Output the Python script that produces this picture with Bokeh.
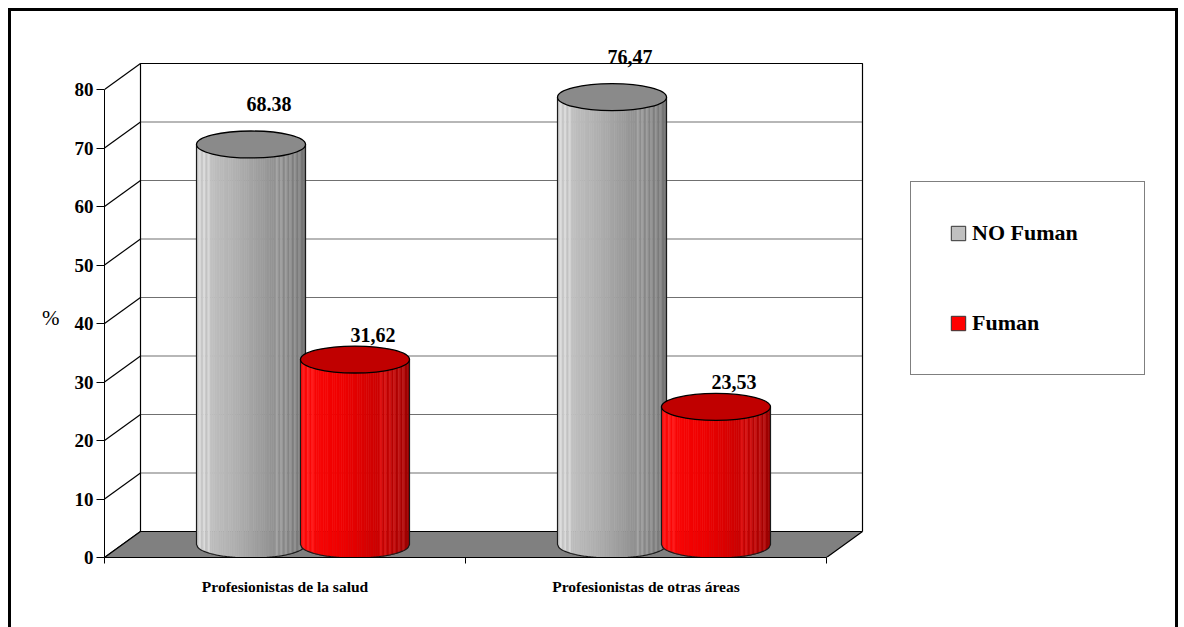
import numpy as np
from bokeh.plotting import figure
from bokeh.models import (Range1d, LinearAxis, FixedTicker, Legend, LegendItem,
                          InlineStyleSheet)
from bokeh.core.properties import value
from bokeh.embed import file_html
from bokeh.resources import INLINE

# ---- data -------------------------------------------------------------
categories = ["Profesionistas de la salud", "Profesionistas de otras áreas"]
series_names = ["NO Fuman", "Fuman"]
no_fuman = [68.38, 76.47]
fuman = [31.62, 23.53]
no_fuman_text = ["68.38", "76,47"]
fuman_text = ["31,62", "23,53"]
y_ticks = [0, 10, 20, 30, 40, 50, 60, 70, 80]

# ---- layout / style ---------------------------------------------------
FONT = "Liberation Serif"
W, H = 1184, 627
B_LEFT, B_RIGHT, B_TOP, B_BOTTOM = 104, 4, 20, 70
PX_PER_X = 361.0          # pixels per category slot
PX_PER_Y = 468.0 / 80.0   # pixels per percent
n_cat = len(categories)
y_top = y_ticks[-1]

x_end = (W - B_LEFT - B_RIGHT) / PX_PER_X
y_end = (H - B_TOP - B_BOTTOM) / PX_PER_Y

# depth of the 3-D box (back wall offset) in data units
DX = 36 / PX_PER_X
DY = 26 / PX_PER_Y

p = figure(width=W, height=H, x_range=Range1d(0, x_end), y_range=Range1d(0, y_end),
           output_backend="svg", toolbar_location=None,
           x_axis_type=None, y_axis_type=None,
           min_border_left=B_LEFT, min_border_right=B_RIGHT,
           min_border_top=B_TOP, min_border_bottom=B_BOTTOM)
p.outline_line_color = None
p.background_fill_color = "white"
p.border_fill_color = "white"

# thick black frame around the whole chart (open at the bottom edge)
p.stylesheets = [InlineStyleSheet(css="""
:host { position: relative; overflow: hidden; }
:host::after {
  content: ""; position: absolute; left: 8px; top: 8px;
  width: 1170px; height: 660px; box-sizing: border-box;
  border: 3px solid black; pointer-events: none;
}
""")]

# ---- axes -------------------------------------------------------------
yax = LinearAxis(ticker=FixedTicker(ticks=y_ticks), bounds=(0, y_top))
yax.major_tick_out = 8
yax.major_tick_in = 0
yax.minor_tick_out = 0
yax.minor_tick_in = 0
yax.major_tick_line_color = "black"
yax.axis_line_color = "black"
yax.major_label_standoff = 3
yax.major_label_text_font = FONT
yax.major_label_text_font_size = "19px"
yax.major_label_text_font_style = "bold"
yax.major_label_text_color = "black"
# "%" unit label, written horizontally to the left of the tick labels
yax.axis_label = "\n\n%"
yax.axis_label_orientation = "horizontal"
yax.axis_label_text_baseline = "middle"
yax.axis_label_standoff = 12
yax.axis_label_text_font = FONT
yax.axis_label_text_font_size = "21px"
yax.axis_label_text_font_style = "normal"
yax.axis_label_text_color = "black"
p.add_layout(yax, "left")

xax = LinearAxis(ticker=FixedTicker(ticks=[i + 0.5 for i in range(n_cat)],
                                    minor_ticks=list(range(n_cat + 1))),
                 bounds=(0, n_cat))
xax.major_label_overrides = {i + 0.5: c for i, c in enumerate(categories)}
xax.major_tick_out = 0
xax.major_tick_in = 0
xax.major_tick_line_color = None
xax.minor_tick_out = 6
xax.minor_tick_in = 0
xax.minor_tick_line_color = "black"
xax.axis_line_color = "black"
xax.major_label_standoff = 14
xax.major_label_text_font = FONT
xax.major_label_text_font_size = "15.5px"
xax.major_label_text_font_style = "bold"
xax.major_label_text_color = "black"
p.add_layout(xax, "below")

# ---- 3-D box: back wall, side wall, floor ----------------------------
grid_vals = y_ticks[1:-1]
p.segment(x0=[DX] * len(grid_vals), y0=[v + DY for v in grid_vals],
          x1=[n_cat + DX] * len(grid_vals), y1=[v + DY for v in grid_vals],
          line_color="#707070", line_width=1.2)
p.multi_line(xs=[[DX, DX, n_cat + DX, n_cat + DX]],
             ys=[[DY, y_top + DY, y_top + DY, DY]],
             line_color="black", line_width=1.2)
p.segment(x0=[0] * len(y_ticks), y0=y_ticks,
          x1=[DX] * len(y_ticks), y1=[v + DY for v in y_ticks],
          line_color="black", line_width=1.2)
p.patch(x=[0, n_cat, n_cat + DX, DX], y=[0, 0, DY, DY],
        fill_color="#808080", line_color="black", line_width=1.2)

# ---- cylinders --------------------------------------------------------
BAR_W = 0.302                 # cylinder diameter, category units
BAR_OFF = 0.144               # series offset from category centre
ELL_H = 27 / PX_PER_Y         # ellipse height of the caps
N_STRIP = 48


def shade(stops, t):
    ts = [s[0] for s in stops]
    return [np.interp(t, ts, [s[1][k] for s in stops]) for k in range(3)]


GRAY_STOPS = [(0.0, (202, 202, 202)), (0.35, (178, 178, 178)),
              (0.7, (148, 148, 148)), (1.0, (115, 115, 115))]
RED_STOPS = [(0.0, (255, 10, 10)), (0.4, (238, 0, 0)),
             (0.75, (200, 0, 0)), (1.0, (155, 0, 0))]
STREAKS = {1, 3, 5, 35, 37, 39, 41, 43, 45}


def strip_colors(stops):
    cols = []
    for k in range(N_STRIP):
        t = (k + 0.5) / N_STRIP
        r, g, b = shade(stops, t)
        if k in STREAKS:
            r, g, b = min(255, r + 22), min(255, g + 22), min(255, b + 22)
        cols.append("#%02x%02x%02x" % (int(r), int(g), int(b)))
    return cols


series = [
    (no_fuman, no_fuman_text, strip_colors(GRAY_STOPS), "#8a8a8a", -BAR_OFF, 27),
    (fuman, fuman_text, strip_colors(RED_STOPS), "#c00000", BAR_OFF, 12),
]

a = BAR_W / 2
hh = ELL_H / 2
for i in range(n_cat):
    for vals, texts, cols, cap_col, off, gap_px in series:
        v = vals[i]
        xc = i + 0.5 + off + DX / 2
        base = DY / 2
        top = v + DY / 2

        def lower(x):
            return base - hh * np.sqrt(np.clip(1 - ((x - xc) / a) ** 2, 0, 1))

        edges = np.linspace(xc - a, xc + a, N_STRIP + 1)
        xs, ys = [], []
        for k in range(N_STRIP):
            xa, xb = edges[k], edges[k + 1]
            xs.append([xa, xb, xb, xa])
            ys.append([lower(xa), lower(xb), top, top])
        p.patches(xs=xs, ys=ys, fill_color=cols, line_color=cols, line_width=0.6)

        cx = np.linspace(xc - a, xc + a, 80)
        p.line(x=[xc - a] + list(cx) + [xc + a], y=[top] + list(lower(cx)) + [top],
               line_color="#1a1a1a", line_width=1.2)
        p.ellipse(x=[xc], y=[top], width=BAR_W, height=ELL_H,
                  fill_color=cap_col, line_color="black", line_width=1.3)

        p.text(x=[xc + DX / 2], y=[v + DY + gap_px / PX_PER_Y], text=[texts[i]],
               text_align="center", text_baseline="alphabetic",
               text_font=value(FONT), text_font_size="20px",
               text_font_style="bold", text_color="black")

# ---- legend -----------------------------------------------------------
# key renderers hold a single NaN box so only their legend swatch is drawn
key_gray = p.quad(left=[np.nan], right=[np.nan], bottom=[np.nan], top=[np.nan],
                  fill_color="#c0c0c0", line_color="#333333")
key_red = p.quad(left=[np.nan], right=[np.nan], bottom=[np.nan], top=[np.nan],
                 fill_color="#ff0000", line_color="#333333")
legend = Legend(items=[LegendItem(label=series_names[0], renderers=[key_gray]),
                       LegendItem(label=series_names[1], renderers=[key_red])],
                location=(806, 182), padding=38, spacing=64, margin=0,
                glyph_width=18, glyph_height=18, label_standoff=5, label_width=134,
                label_text_font=FONT, label_text_font_size="22px",
                label_text_font_style="bold", label_text_color="black",
                border_line_color="black", border_line_width=1,
                background_fill_color="white", background_fill_alpha=1.0)
p.add_layout(legend)

open("out.html", "w").write(file_html(p, INLINE))
